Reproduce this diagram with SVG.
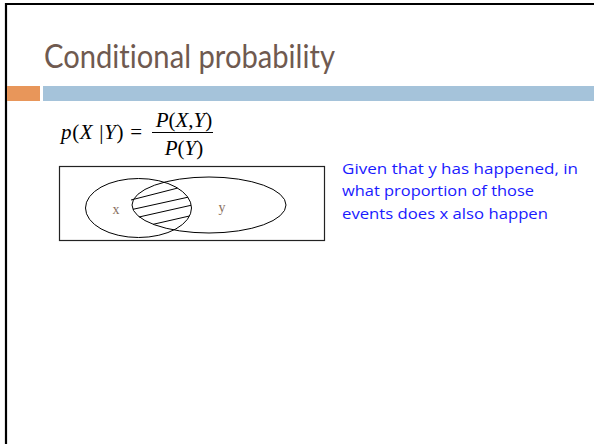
<svg xmlns="http://www.w3.org/2000/svg" width="594" height="444" viewBox="0 0 594 444">
<style>
.title{font-family:Lato,"Open Sans","Liberation Sans",sans-serif;font-size:33px;fill:#6f5a50;font-variant-ligatures:none;font-feature-settings:"liga" 0,"dlig" 0}
.note{font-family:"Open Sans","Liberation Sans",sans-serif;font-size:14.5px;fill:#1a1aff}
.m{font-family:"Liberation Serif","Times New Roman",serif;font-size:21px;fill:#000}
.i{font-style:italic}
.lbl{font-family:"Liberation Serif",serif;font-size:14px;fill:#8a7060}
.sh{fill:none;stroke:#000;stroke-width:1}
</style>
<rect width="594" height="444" fill="#fff"/>
<g id="frame">
<line x1="6" y1="3" x2="6" y2="444" stroke="#000" stroke-width="2.2"/>
<line x1="5" y1="4" x2="594" y2="4" stroke="#000" stroke-width="2.2"/>
</g>
<g id="title">
<text class="title" x="44" y="68" textLength="291" lengthAdjust="spacingAndGlyphs">Conditional probability</text>
<rect x="7" y="86" width="33" height="15" fill="#e8965a"/>
<rect x="43" y="86" width="551" height="15" fill="#a5c3da"/>
</g>
<g id="formula">
<text class="m" x="61" y="139" textLength="81" lengthAdjust="spacing"><tspan class="i">p</tspan>(<tspan class="i">X</tspan> |<tspan class="i">Y</tspan>) =</text>
<text class="m" x="184" y="127" text-anchor="middle"><tspan class="i">P</tspan>(<tspan class="i">X</tspan>,<tspan class="i">Y</tspan>)</text>
<line x1="152" y1="132.5" x2="213" y2="132.5" stroke="#000" stroke-width="1"/>
<text class="m" x="184" y="155" text-anchor="middle"><tspan class="i">P</tspan>(<tspan class="i">Y</tspan>)</text>
</g>
<g id="venn">
<rect x="59.5" y="166.5" width="265" height="74" fill="none" stroke="#222" stroke-width="1.2"/>
<ellipse id="setX" class="sh" cx="138.5" cy="208" rx="53" ry="29.5"/>
<ellipse id="setY" class="sh" cx="209" cy="205" rx="77" ry="28"/>
<g id="hatch" stroke="#000" stroke-width="1">
<line x1="131" y1="200" x2="177.5" y2="188.1"/>
<line x1="133" y1="209.3" x2="188" y2="197.2"/>
<line x1="139" y1="217" x2="191" y2="205.3"/>
<line x1="153.2" y1="224.3" x2="189.4" y2="216"/>
</g>
<text class="lbl" x="116" y="214" text-anchor="middle">x</text>
<text class="lbl" x="222" y="212" text-anchor="middle">y</text>
</g>
<g id="note">
<text class="note" x="342" y="173.5" textLength="236" lengthAdjust="spacingAndGlyphs">Given that y has happened, in</text>
<text class="note" x="342" y="196" textLength="192" lengthAdjust="spacingAndGlyphs">what proportion of those</text>
<text class="note" x="342" y="218.5" textLength="206" lengthAdjust="spacingAndGlyphs">events does x also happen</text>
</g>
</svg>
